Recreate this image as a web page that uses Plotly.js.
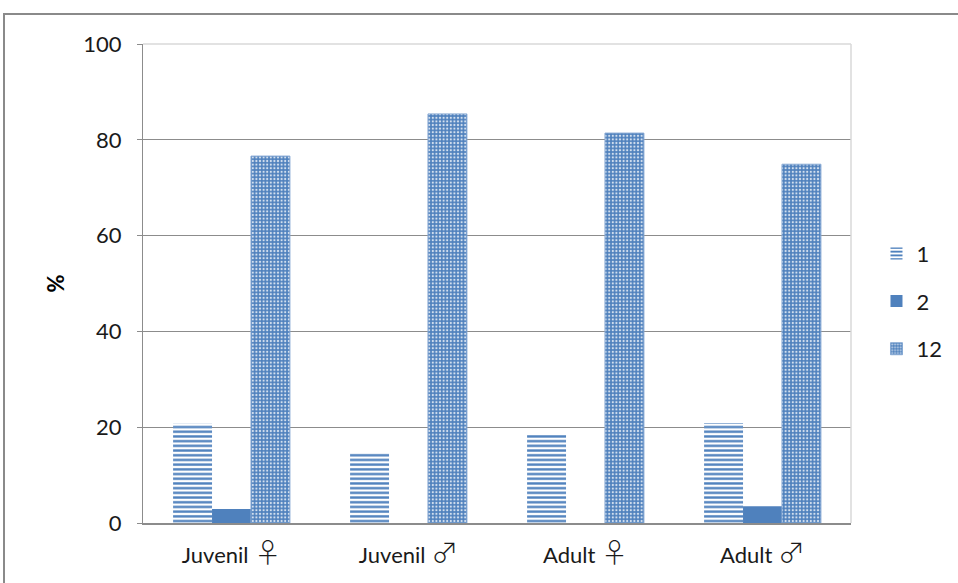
<!DOCTYPE html>
<html>
<head>
<meta charset="utf-8">
<script src="https://cdn.plot.ly/plotly-3.0.1.min.js"></script>
<style>
  html, body { margin: 0; padding: 0; background: #ffffff; }
  #wrap { position: relative; width: 958px; height: 583px; overflow: hidden; }
  #chart { position: absolute; left: 0; top: 0; width: 958px; height: 583px; }
  #frame { position: absolute; left: 3px; top: 13px; width: 1000px; height: 700px;
           border-top: 2px solid #8a8a8a; border-left: 2px solid #8a8a8a; pointer-events: none; }
</style>
</head>
<body>
<div id="wrap">
  <div id="chart"></div>
  <div id="frame"></div>
</div>
<script>
// Groups on the x axis
const categories = ['Juvenil ♀', 'Juvenil ♂', 'Adult ♀', 'Adult ♂'];

// Percentages per series
const seriesNames = ['1', '2', '12'];
const values1  = [20.7, 14.6, 18.6, 20.9];
const values2  = [2.9, 0, 0, 3.5];
const values12 = [76.6, 85.4, 81.4, 74.9];

// Y axis ticks
const yTicks = [0, 20, 40, 60, 80, 100];

const blue = '#4f81bd';
const FONT = 'Lato, "Liberation Sans", "DejaVu Sans", sans-serif';

// Gender signs are set in a thin symbol font at a larger size
const catLabels = categories.map(c =>
  c.replace(/([♀♂])/g,
    '<span style="font-family:\'Noto Sans CJK JP\';font-weight:300;font-size:27px">$1</span>'));

const traces = [
  {
    type: 'bar', name: seriesNames[0], x: categories, y: values1,
    legendgroup: 'a',
    marker: {
      color: '#ffffff',
      line: { width: 0 },
      pattern: { shape: '-', fgcolor: blue, bgcolor: '#ffffff', fgopacity: 1,
                 size: 4.7, solidity: 0.5, fillmode: 'overlay' }
    },
    hoverinfo: 'skip'
  },
  {
    type: 'bar', name: seriesNames[1], x: categories, y: values2,
    legendgroup: 'b',
    marker: { color: blue, line: { width: 0 } },
    hoverinfo: 'skip'
  },
  {
    type: 'bar', name: seriesNames[2], x: categories, y: values12,
    legendgroup: 'c',
    marker: {
      color: blue,
      line: { width: 1, color: '#86a8d3' },
      pattern: { shape: '.', fgcolor: '#ffffff', bgcolor: blue, fgopacity: 0.75,
                 size: 3.6, solidity: 0.3, fillmode: 'overlay' }
    },
    hoverinfo: 'skip'
  }
];

const layout = {
  width: 958, height: 583,
  margin: { l: 143, r: 107, t: 44, b: 60, pad: 0, autoexpand: false },
  paper_bgcolor: 'rgba(0,0,0,0)',
  plot_bgcolor: '#ffffff',
  font: { family: FONT, size: 22, color: '#1a1a1a' },
  barmode: 'group',
  bargap: 0.34,
  bargroupgap: 0,
  showlegend: true,
  legend: {
    x: 1.036, xanchor: 'left', y: 0.463, yanchor: 'middle',
    font: { family: FONT, size: 22, color: '#1a1a1a' },
    traceorder: 'grouped', tracegroupgap: 16,
    itemwidth: 30, bgcolor: 'rgba(0,0,0,0)'
  },
  xaxis: {
    type: 'category',
    tickmode: 'array', tickvals: categories, ticktext: catLabels,
    showline: true, linecolor: '#8c8c8c', linewidth: 1.5,
    showgrid: false, ticks: '',
    tickfont: { family: FONT, size: 22, color: '#1a1a1a' },
    ticklabelstandoff: 12,
    automargin: false,
    fixedrange: true
  },
  yaxis: {
    range: [0, 100],
    tickvals: yTicks,
    ticktext: yTicks.map(String),
    showline: true, linecolor: '#8c8c8c', linewidth: 1,
    ticks: 'outside', ticklen: 5, tickcolor: '#8c8c8c', tickwidth: 1,
    showgrid: true, gridcolor: '#8c8c8c', gridwidth: 1,
    zeroline: false,
    tickfont: { family: FONT, size: 22, color: '#1a1a1a' },
    ticklabelstandoff: 11,
    automargin: false,
    title: { text: '<b>%</b>', font: { family: FONT, size: 22, color: '#000000' }, standoff: 12 },
    fixedrange: true
  },
  shapes: [
    // light frame on the top and right sides of the plot area
    { type: 'line', xref: 'paper', yref: 'paper', x0: 0, x1: 1, y0: 1, y1: 1,
      line: { color: '#d9d9d9', width: 1.5 }, layer: 'above' },
    { type: 'line', xref: 'paper', yref: 'paper', x0: 1, x1: 1, y0: 0, y1: 1,
      line: { color: '#d9d9d9', width: 1.5 }, layer: 'above' }
  ]
};

Plotly.newPlot('chart', traces, layout, { displayModeBar: false, staticPlot: true });
</script>
</body>
</html>
